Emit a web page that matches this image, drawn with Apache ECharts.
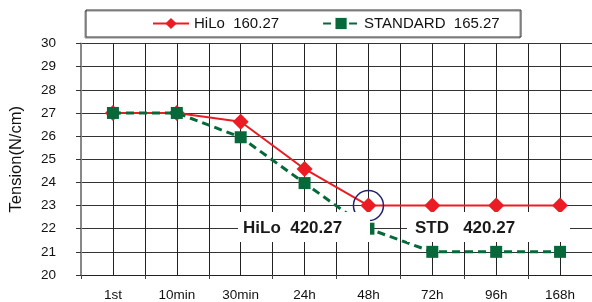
<!DOCTYPE html>
<html>
<head>
<meta charset="utf-8">
<title>Tension chart</title>
<style>html,body{margin:0;padding:0;background:#fff;}</style>
<script src="https://cdn.jsdelivr.net/npm/echarts@6/dist/echarts.min.js"></script>
</head>
<body>
<div id="main" style="width:592px;height:302px;"></div>
<script type="text/javascript">
var categories = ['1st', '10min', '30min', '24h', '48h', '72h', '96h', '168h'];
var hiloValues = [27, 27, 26.62, 24.58, 23, 23, 23, 23];
var stdValues = [27, 27, 25.95, 23.97, 22.0, 21, 21, 21];
var seriesNames = ['HiLo  160.27', 'STANDARD  165.27'];
var yTicks = { min: 20, max: 30, step: 1 };
var circledPoint = ['48h', 23];
var noteTexts = ['HiLo  420.27', 'STD   420.27'];

var FONT = "'Liberation Sans', Arial, sans-serif";
var chart = echarts.init(document.getElementById('main'));

var option = {
  animation: false,
  textStyle: { fontFamily: FONT },
  grid: { left: 76, right: 0, top: 43.5, bottom: 27 },
  legend: {
    left: 152, top: 16, padding: 0,
    itemWidth: 36, itemHeight: 14, itemGap: 43,
    textStyle: { fontSize: 15, color: '#111', fontFamily: FONT },
    data: seriesNames
  },
  xAxis: [{
    type: 'category',
    data: categories,
    boundaryGap: true,
    axisLine: { lineStyle: { color: '#222', width: 1 } },
    axisTick: { show: true, length: 4, lineStyle: { color: '#444' } },
    axisLabel: { fontSize: 13.5, color: '#111', margin: 13 },
    splitLine: { show: false }
  }, {
    type: 'value',
    min: 0, max: 8, interval: 0.5,
    show: true,
    position: 'bottom',
    axisLine: { show: false },
    axisTick: { show: false },
    axisLabel: { show: false },
    splitLine: { show: true, lineStyle: { color: '#222', width: 1 } }
  }],
  yAxis: {
    type: 'value',
    min: yTicks.min, max: yTicks.max, interval: yTicks.step,
    name: 'Tension(N/cm)',
    nameLocation: 'middle',
    nameGap: 56,
    nameTextStyle: { fontSize: 16.5, color: '#111' },
    axisLine: { show: true, lineStyle: { color: '#888', width: 2 } },
    axisTick: { show: true, length: 5, lineStyle: { color: '#333' } },
    axisLabel: { fontSize: 13.5, color: '#111', margin: 25 },
    splitLine: { show: true, lineStyle: { color: '#333', width: 1 } }
  },
  series: [{
    name: seriesNames[0],
    type: 'line',
    data: hiloValues,
    symbol: 'diamond',
    symbolSize: 16,
    color: '#ec1c24',
    lineStyle: { color: '#ec1c24', width: 2 },
    itemStyle: { color: '#ec1c24' },
    z: 3,
    markPoint: {
      symbol: 'circle',
      symbolSize: 30,
      silent: true,
      itemStyle: { color: 'rgba(0,0,0,0)', borderColor: '#232370', borderWidth: 1.5 },
      label: { show: false },
      data: [{ coord: circledPoint }]
    }
  }, {
    name: seriesNames[1],
    type: 'line',
    data: stdValues,
    symbol: 'rect',
    symbolSize: 12,
    color: '#07693a',
    lineStyle: { color: '#07693a', width: 3, type: [8, 5] },
    itemStyle: { color: '#07693a' },
    z: 4
  }],
  graphic: [{
    type: 'rect', z: 100,
    shape: { x: 86, y: 10, width: 435, height: 27 },
    style: { fill: 'rgba(0,0,0,0)', stroke: '#333', lineWidth: 1, shadowColor: 'rgba(0,0,0,0.45)', shadowOffsetX: -1, shadowOffsetY: 1, shadowBlur: 0 }
  }, {
    type: 'rect', z: 100,
    shape: { x: 238, y: 212, width: 132, height: 30 },
    style: { fill: '#fff' }
  }, {
    type: 'text', z: 101,
    x: 243, y: 228,
    style: { text: noteTexts[0], font: 'bold 17px ' + FONT, fill: '#1a1a1a', verticalAlign: 'middle' }
  }, {
    type: 'rect', z: 100,
    shape: { x: 407, y: 212, width: 163, height: 30 },
    style: { fill: '#fff' }
  }, {
    type: 'text', z: 101,
    x: 415, y: 228,
    style: { text: noteTexts[1], font: 'bold 17px ' + FONT, fill: '#1a1a1a', verticalAlign: 'middle' }
  }]
};
chart.setOption(option);
</script>
</body>
</html>
